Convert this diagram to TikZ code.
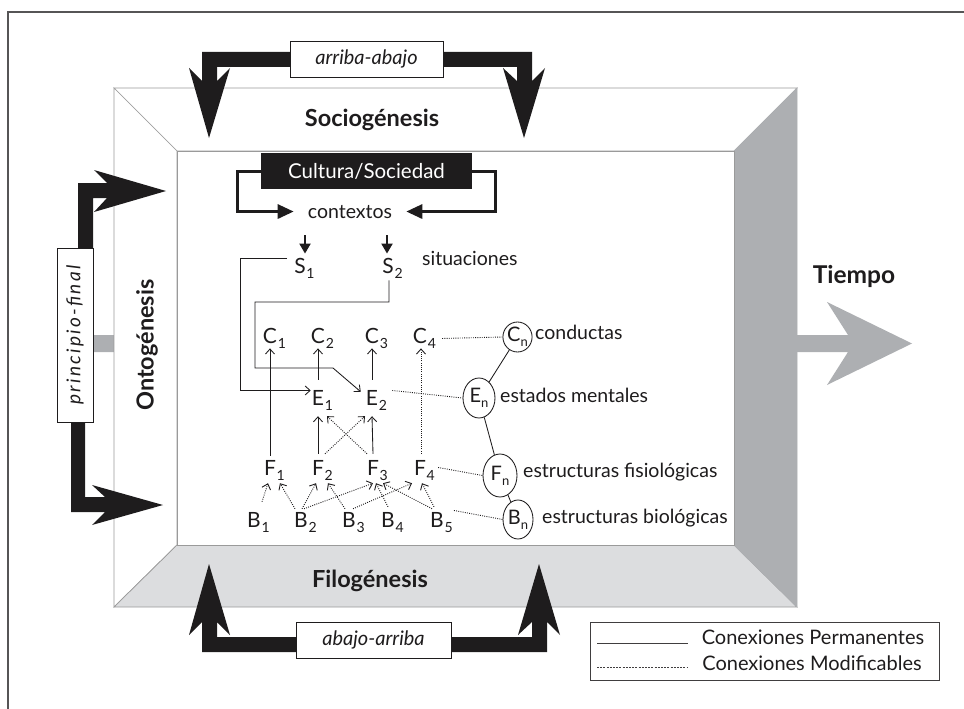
\documentclass[tikz,border=0pt]{standalone}
\usepackage{fontspec}
\setmainfont{Lato}
\newfontfamily\spacedfont[LetterSpace=12]{Lato}
\usetikzlibrary{arrows.meta,shapes.geometric,calc}
\definecolor{ink}{HTML}{1E1C1D}
\definecolor{bandgray}{HTML}{ADAFB2}
\definecolor{lightband}{HTML}{DCDDDF}
\definecolor{edgegray}{HTML}{9A9A9A}
\newcommand{\sbs}[1]{\rlap{\smash{\raisebox{-0.55ex}{\fontsize{14pt}{14pt}\selectfont\kern0.8pt#1}}}}
\newcommand{\sbn}[1]{\raisebox{-0.5ex}{\fontsize{13pt}{13pt}\selectfont #1}}
\begin{document}
\begin{tikzpicture}[x=1pt,y=-1pt, text=ink,
  font=\fontsize{19.5pt}{22pt}\selectfont,
  perm/.style={draw=ink, line width=0.85pt},
  modif/.style={draw=ink, line width=0.9pt, dash pattern=on 0.9pt off 1.3pt},
  vtip/.style={-{Straight Barb[length=5pt,width=9pt]}},
  letter/.style={anchor=base, inner sep=0pt, font=\fontsize{21pt}{22pt}\selectfont},
  circ/.style={ellipse, draw=ink, line width=0.85pt, inner sep=0pt, font=\fontsize{20pt}{22pt}\selectfont},
  lbl/.style={anchor=base west, inner sep=0pt},
  bigbold/.style={inner sep=0pt, font=\fontsize{23.5pt}{26pt}\selectfont\bfseries},
  lblbox/.style={draw=ink, fill=white, line width=0.8pt, inner sep=0pt, font=\fontsize{20pt}{22pt}\selectfont\itshape},
  blackarrow/.style={fill=ink, draw=none},
  looparrow/.style={draw=ink, line width=3pt, -{Triangle[length=16pt,width=14pt]}},
  downarrow/.style={draw=ink, line width=2pt, -{Triangle[length=10pt,width=11pt]}}
]
\useasboundingbox (0,0) rectangle (964,709);
% outer frame
\draw[draw=ink!75, line width=1.2pt] (8,709) -- (8,12) -- (964,12);
% Tiempo arrow
\fill[bandgray] (93,335) -- (848,335) -- (827,302) -- (912,343.5) -- (827,385) -- (848,352) -- (93,352) -- cycle;
% box bands
\filldraw[fill=white, draw=edgegray, line width=0.7pt] (114,88) -- (797,88) -- (734,151) -- (177,151) -- cycle;
\filldraw[fill=white, draw=edgegray, line width=0.7pt] (114,88) -- (177,151) -- (177,545) -- (114,607) -- cycle;
\filldraw[fill=lightband, draw=edgegray, line width=0.7pt] (114,607) -- (177,545) -- (734,545) -- (797,607) -- cycle;
\filldraw[fill=bandgray, draw=bandgray, line width=0.7pt] (797,88) -- (734,151) -- (734,545) -- (797,607) -- cycle;
\filldraw[fill=white, draw=edgegray, line width=0.7pt] (177,151) rectangle (734,545);
% big black arrows
\fill[blackarrow] (290,52) -- (202,52) -- (202,81) -- (189,68) -- (209,138) -- (230,68) -- (217,81) -- (217,67) -- (290,67) -- cycle;
\fill[blackarrow] (443,52) -- (532,52) -- (532,81) -- (545,68) -- (524,138) -- (503,68) -- (517,81) -- (517,67) -- (443,67) -- cycle;
\fill[blackarrow] (296,652) -- (202,652) -- (202,622) -- (189,635) -- (209,564) -- (230,635) -- (217,622) -- (217,637) -- (296,637) -- cycle;
\fill[blackarrow] (451,652) -- (547,652) -- (547,622) -- (560,635) -- (539,564) -- (518,635) -- (532,622) -- (532,637) -- (451,637) -- cycle;
\fill[blackarrow] (78,248) -- (78,183) -- (107,183) -- (94,170) -- (166,191) -- (94,212) -- (107,198) -- (93,198) -- (93,248) -- cycle;
\fill[blackarrow] (71,422) -- (71,512) -- (105,512) -- (92,525) -- (163,505) -- (92,485) -- (105,497) -- (85,497) -- (85,422) -- cycle;
% label boxes
\node[lblbox, minimum width=153pt, minimum height=36pt] (aa) at (366.5,59) {arriba-abajo};
\node[lblbox, minimum width=155pt, minimum height=36pt] (ab) at (373.5,640) {abajo-arriba};
\node[lblbox, rotate=90, minimum width=174pt, minimum height=36pt, font=\fontsize{19pt}{22pt}\spacedfont\itshape] (pf) at (75,335) {principio-final};
% band labels
\node[bigbold, anchor=base] (socio) at (372,126) {Sociogénesis};
\node[bigbold, anchor=base] (filo) at (370,587) {Filogénesis};
\node[bigbold, rotate=90] (onto) at (147,345) {Ontogénesis};
\node[bigbold, anchor=base, font=\fontsize{24.5pt}{26pt}\selectfont\bfseries] (tiempo) at (854,283) {Tiempo};
% cultura
\node[fill=ink, text=white, minimum width=211pt, minimum height=36pt, inner sep=0pt, font=\fontsize{20.5pt}{22pt}\selectfont] (cs) at (366.5,171) {Cultura/Sociedad};
\node[anchor=base, inner sep=0pt] (ctx) at (350,218) {contextos};
\draw[looparrow] (cs.west) -- ++(-23,0) |- ($(ctx.west)+(-14,0)$);
\draw[looparrow] (cs.east) -- ++(23,0) |- ($(ctx.east)+(14,0)$);
% situations
\node[letter] (S1) at (300,273) {S\sbs{1}};
\node[letter] (S2) at (388,273) {S\sbs{2}};
\node[lbl] (sit) at (422,265) {situaciones};
\coordinate (d1) at (305,235);
\coordinate (d2) at (387,235);
\draw[downarrow] (d1) -- ($(S1.north)+(5,-4)$);
\draw[downarrow] (d2) -- ($(S2.north)+(-1,-4)$);
% letters
\node[letter] (C1) at (270,343) {C\sbs{1}};
\node[letter] (C2) at (318,343) {C\sbs{2}};
\node[letter] (C3) at (372,343) {C\sbs{3}};
\node[letter] (C4) at (420,343) {C\sbs{4}};
\node[letter] (E1) at (318,405) {E\sbs{1}};
\node[letter] (E2) at (372,405) {E\sbs{2}};
\node[letter] (F1) at (270,475) {F\sbs{1}};
\node[letter] (F2) at (318,475) {F\sbs{2}};
\node[letter] (F3) at (373,475) {F\sbs{3}};
\node[letter] (F4) at (420,475) {F\sbs{4}};
\node[letter] (B1) at (254,527) {B\sbs{1}};
\node[letter] (B2) at (301,527) {B\sbs{2}};
\node[letter] (B3) at (349,527) {B\sbs{3}};
\node[letter] (B4) at (388,527) {B\sbs{4}};
\node[letter] (B5) at (437,527) {B\sbs{5}};
% circles
\node[circ, minimum width=29pt, minimum height=30pt] (Cn) at (517.5,337) {C\sbn{n}};
\node[circ, minimum width=32pt, minimum height=40pt] (En) at (479,398) {E\sbn{n}};
\node[circ, minimum width=34pt, minimum height=43pt] (Fn) at (500,475.5) {F\sbn{n}};
\node[circ, minimum width=30pt, minimum height=39pt] (Bn) at (518,519.5) {B\sbn{n}};
\draw[perm] (Cn) -- (En);
\draw[perm] (En) -- (Fn);
\draw[perm] (Fn) -- (Bn);
\node[lbl] (lc) at (535,339) {conductas};
\node[lbl] (le) at (500,402) {estados mentales};
\node[lbl] (lf) at (523,477) {estructuras fisiológicas};
\node[lbl] (lb) at (542,523) {estructuras biológicas};
% dotted to circles
\draw[modif] ($(C4.east)+(15,3)$) -- (Cn.west);
\draw[modif] ($(E2.east)+(14,-7)$) -- (En.west);
\draw[modif] ($(F4.east)+(12,0)$) -- (Fn.west);
\draw[modif] ($(B5.east)+(10,-9)$) -- (Bn.west);
% S connections
\draw[perm, vtip] ($(S1.west)+(-7,-7)$) -- ++(-47,0) |- ($(E1.west)+(-1,-7)$);
\draw[perm, vtip] ($(S2.south)+(1,7)$) |- (255,302) -- (255,368) -- (333,368) -- ($(E2.north west)+(-5,2)$);
% vertical permanent arrows
\draw[perm, vtip] ($(F1.north)+(0,-4)$) -- ($(C1.south)+(0,5)$);
\draw[perm, vtip] ($(E1.north)+(0,-10)$) -- ($(C2.south)+(0,5)$);
\draw[perm, vtip] ($(E2.north)+(0,-10)$) -- ($(C3.south)+(0,5)$);
\draw[perm, vtip] ($(F2.north)+(0,-6)$) -- ($(E1.south)+(0,11)$);
\draw[perm, vtip] ($(F3.north)+(0,-6)$) -- ($(E2.south)+(0,11)$);
% modifiable arrows
\draw[modif, vtip] ($(F2.north)+(7,-6)$) -- ($(E2.south)+(-7,11)$);
\draw[modif, vtip] ($(F3.north)+(-6,-6)$) -- ($(E1.south)+(9,11)$);
\draw[modif, vtip] ($(F4.north)+(1,-6)$) -- ($(C4.south)+(1,5)$);
\draw[modif, vtip] ($(B1.north)+(8,-10)$) -- ($(F1.south)+(-2,8)$);
\draw[modif, vtip] ($(B2.north)+(-6,-3)$) -- ($(F1.south)+(10,8)$);
\draw[modif, vtip] ($(B2.north)+(1,-3)$) -- ($(F2.south)+(-2,8)$);
\draw[modif, vtip] ($(B3.north)+(-4,-3)$) -- ($(F2.south)+(10,8)$);
\draw[modif, vtip] ($(B2.north)+(3,-3)$) -- ($(F3.south)+(0,8)$);
\draw[modif, vtip] ($(B3.north)+(4,-3)$) -- ($(F4.south)+(-8,8)$);
\draw[modif, vtip] ($(B4.north)+(0,-5)$) -- ($(F3.south)+(3,8)$);
\draw[modif, vtip] ($(B5.north)+(-5,-3)$) -- ($(F3.south)+(10,8)$);
\draw[modif, vtip] ($(B5.north)+(-3,-5)$) -- ($(F4.south)+(2,8)$);
% legend
\node[draw=ink!85, line width=0.8pt, minimum width=349pt, minimum height=58pt, inner sep=0pt] (leg) at (764.5,651) {};
\node[inner sep=0pt, font=\fontsize{20pt}{22pt}\selectfont] (lp) at (813,637) {Conexiones Permanentes};
\node[inner sep=0pt, font=\fontsize{20pt}{22pt}\selectfont] (lm) at (812,663) {Conexiones Modificables};
\draw[draw=ink!85, line width=0.7pt] (597,643) -- (688,643);
\draw[draw=ink!85, line width=0.6pt, dash pattern=on 2pt off 1.2pt] (597,667) -- (688,667);
\end{tikzpicture}
\end{document}
